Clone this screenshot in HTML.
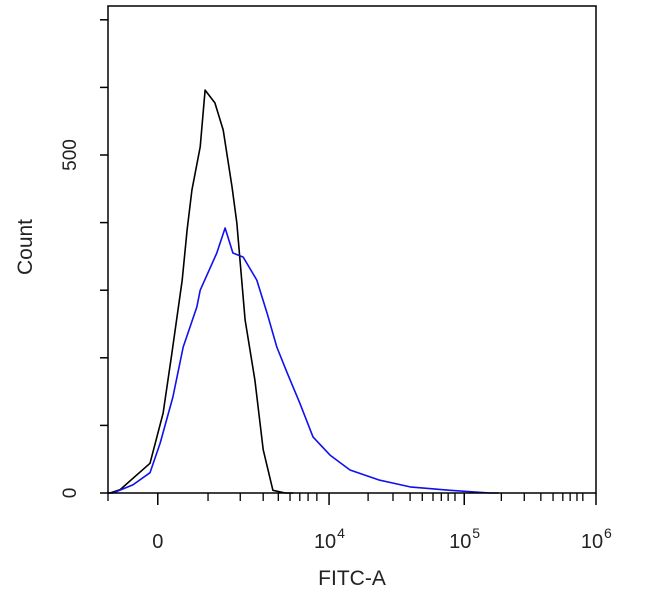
<!DOCTYPE html>
<html><head><meta charset="utf-8"><style>
body{margin:0;background:#fff}
svg text{font-family:"Liberation Sans",sans-serif;fill:#222}
</style></head><body>
<svg id="chart" width="650" height="594" xmlns="http://www.w3.org/2000/svg">
<g id="marks"></g>
<rect x="108" y="6" width="488" height="487" fill="none" stroke="#000" stroke-width="1.5"/>
<g id="axes"></g>
<text x="352" y="585" font-size="21" text-anchor="middle">FITC-A</text>
<text transform="translate(32,247) rotate(-90)" font-size="21" text-anchor="middle">Count</text>
</svg>
<script>
// display channel (0..1000 across axis) and counts
const blackX = [0,4,25,86,113,131,152,162,172,189,199,219,236,254,264,281,301,318,338,363,380];
const blackY = [0,0,5,44,118,207,315,389,448,512,596,577,537,453,400,256,167,64,4,0,0];
const blueX = [0,10,51,86,107,133,154,182,189,223,240,256,277,305,326,346,367,393,420,455,496,557,619,701,783,800];
const blueY = [0,0,12,30,74,142,216,275,300,355,392,355,349,315,266,216,178,133,83,56,34,19,9,4,0,0];
const yTicks = [0,100,200,300,400,500,600,700];
const yTickLabels = ["0","","","","","500","",""];
const xMajorLabels = ["0","10","10","10"];
const xMajorExp = ["","4","5","6"];
const xMajorCh = [102,453,730,1000];
const xMinorCh = [0,205,271,318,349,373,393,410,428,533,584,619,644,666,683,697,711,806,853,887,912,932,947,961,973];

const L=108,R=596,T=6,B=493;
const xs = c => L + c*(R-L)/1000;
const ys = v => B - v*(338/500);
const NS="http://www.w3.org/2000/svg";
const marks=document.getElementById('marks'), axes=document.getElementById('axes');
function mk(tag,attrs,parent){const e=document.createElementNS(NS,tag);for(const k in attrs)e.setAttribute(k,attrs[k]);parent.appendChild(e);return e;}
function linePath(X,Y){let d='M'+xs(X[0]).toFixed(1)+' '+ys(Y[0]).toFixed(1);for(let i=1;i<X.length;i++){d+=' L'+xs(X[i]).toFixed(1)+' '+ys(Y[i]).toFixed(1);}return d;}
const pb=mk('path',{d:linePath(blackX,blackY),fill:'none',stroke:'#000','stroke-width':1.6,'stroke-linejoin':'round'},marks);


const pu=mk('path',{d:linePath(blueX,blueY),fill:'none',stroke:'#1010ee','stroke-width':1.6,'stroke-linejoin':'round'},marks);


yTicks.forEach((v,i)=>{
  const t=mk('line',{x1:100,x2:L,y1:ys(v),y2:ys(v),stroke:'#000','stroke-width':1.5},axes);
  
  
  if(yTickLabels[i]){
    const tx=mk('text',{transform:`translate(${76},${ys(v)}) rotate(-90)`,'font-size':19,'text-anchor':'middle'},axes);
    tx.textContent=yTickLabels[i];
    
    
  }
});
xMinorCh.forEach(c=>{
  const t=mk('line',{x1:xs(c),x2:xs(c),y1:B,y2:B+8,stroke:'#000','stroke-width':1.3},axes);
  
  
});
xMajorCh.forEach((c,i)=>{
  const t=mk('line',{x1:xs(c),x2:xs(c),y1:B,y2:B+12,stroke:'#000','stroke-width':1.5},axes);
  
  
  const tx=mk('text',{x:xs(c)+(xMajorExp[i]?-4:0),y:548,'font-size':20,'text-anchor':'middle'},axes);
  tx.textContent=xMajorLabels[i];
  
  
  if(xMajorExp[i]){
    const ex=mk('text',{x:xs(c)+8,y:538,'font-size':14},axes);
    ex.textContent=xMajorExp[i];
    
    
  }
});
</script>
</body></html>
